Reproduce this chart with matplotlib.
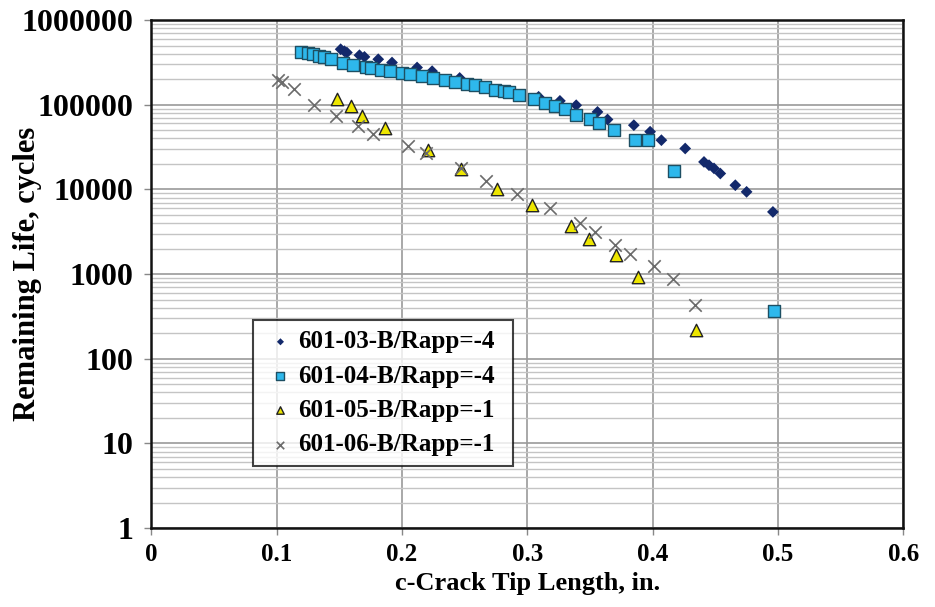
import matplotlib.pyplot as plt
from matplotlib.ticker import LogLocator, FixedLocator, NullFormatter, FuncFormatter

# Series data: crack length (in.) vs remaining life (cycles)
c03 = [0.151, 0.154, 0.156, 0.166, 0.170, 0.181, 0.192, 0.212, 0.224, 0.246,
       0.309, 0.326, 0.339, 0.356, 0.364, 0.385, 0.398, 0.407, 0.426, 0.441,
       0.445, 0.449, 0.454, 0.466, 0.475, 0.496]
n03 = [452000, 428000, 413000, 384000, 367000, 344000, 315000, 275000, 249000, 207000,
       124000, 111000, 98600, 82200, 66900, 57300, 48000, 38100, 30400, 21100,
       19300, 17700, 15400, 11200, 9350, 5420]

c04 = [0.119, 0.125, 0.129, 0.134, 0.138, 0.143, 0.153, 0.161, 0.171, 0.175,
       0.183, 0.190, 0.200, 0.206, 0.216, 0.225, 0.234, 0.242, 0.252, 0.258,
       0.266, 0.274, 0.281, 0.285, 0.293, 0.305, 0.314, 0.322, 0.330, 0.339,
       0.350, 0.357, 0.369, 0.386, 0.396, 0.417, 0.497]
n04 = [420000, 403000, 392000, 377000, 361000, 344000, 315000, 293000, 279000, 272000,
       260000, 251000, 237000, 229000, 217000, 204000, 195000, 186000, 175000, 170000,
       161000, 151000, 144000, 140000, 131000, 116000, 106000, 96900, 88500, 76600,
       67400, 61000, 50900, 38800, 38100, 16400, 368]

c05 = [0.148, 0.159, 0.168, 0.186, 0.221, 0.247, 0.276, 0.304, 0.335, 0.349,
       0.371, 0.388, 0.435]
n05 = [118000, 96300, 73800, 53800, 29000, 17300, 10200, 6590, 3680, 2630,
       1690, 927, 221]

c06 = [0.101, 0.104, 0.114, 0.130, 0.147, 0.165, 0.177, 0.205, 0.219, 0.247,
       0.267, 0.292, 0.318, 0.342, 0.354, 0.370, 0.382, 0.401, 0.416, 0.434]
n06 = [195000, 186000, 152000, 100500, 73800, 55700, 44800, 32600, 26600, 17800,
       12500, 8850, 6000, 4050, 3180, 2180, 1730, 1240, 864, 430]

labels = ['601-03-B/Rapp=-4', '601-04-B/Rapp=-4', '601-05-B/Rapp=-1', '601-06-B/Rapp=-1']

plt.rcParams['font.family'] = ['Liberation Serif', 'DejaVu Serif']
plt.rcParams['font.weight'] = 'bold'

fig = plt.figure(figsize=(9.35, 6.07), dpi=100)
ax = fig.add_axes([0.162, 0.130, 0.804, 0.837])

ax.scatter(c03, n03, marker='D', s=36, color='#13296b', edgecolors='none', label=labels[0], zorder=3)
ax.scatter(c04, n04, marker='s', s=80, color='#2eb8ec', edgecolors='#1d4f63', linewidths=1.0, label=labels[1], zorder=3)
ax.scatter(c05, n05, marker='^', s=80, color='#ede600', edgecolors='#222222', linewidths=1.0, label=labels[2], zorder=3)
ax.scatter(c06, n06, marker='x', s=80, color='#6b6b6b', linewidths=1.2, label=labels[3], zorder=3)

ax.set_yscale('log')
ax.set_xlim(0, 0.6)
ax.set_ylim(1, 1e6)
ax.xaxis.set_major_locator(FixedLocator([0, 0.1, 0.2, 0.3, 0.4, 0.5, 0.6]))
ax.xaxis.set_major_formatter(FuncFormatter(lambda v, p: '0' if v == 0 else f'{v:g}'))
ax.yaxis.set_major_locator(LogLocator(base=10, numticks=10))
ax.yaxis.set_minor_locator(LogLocator(base=10, subs=range(2, 10), numticks=100))
ax.yaxis.set_major_formatter(FuncFormatter(lambda v, p: f'{int(round(v))}'))
ax.yaxis.set_minor_formatter(NullFormatter())

ax.grid(True, which='major', axis='both', color='#9a9a9a', linewidth=1.2)
ax.grid(True, which='minor', axis='y', color='#c4c4c4', linewidth=1.0)
ax.set_axisbelow(True)

for s in ax.spines.values():
    s.set_color('#111111')
    s.set_linewidth(1.8)

ax.tick_params(axis='both', which='major', direction='out', length=5, width=1, color='#888888', pad=6)
ax.tick_params(axis='x', labelsize=18)
ax.tick_params(axis='y', labelsize=23, pad=8)
ax.tick_params(axis='y', which='minor', length=0)

ax.set_xlabel('c-Crack Tip Length, in.', fontsize=19, fontweight='bold', labelpad=4)
ax.set_ylabel('Remaining Life, cycles', fontsize=22, fontweight='bold')
ax.yaxis.set_label_coords(-0.146, 0.5)

leg = ax.legend(loc='lower left', bbox_to_anchor=(0.135, 0.122, 0.346, 0.295), mode='expand',
                fontsize=18, frameon=True, fancybox=False, edgecolor='#111111',
                handletextpad=0.0, borderpad=0.4, labelspacing=0.45, markerscale=0.6,
                handlelength=1.4, borderaxespad=0)
leg.get_frame().set_linewidth(1.5)

plt.savefig('out.png', dpi=100)
